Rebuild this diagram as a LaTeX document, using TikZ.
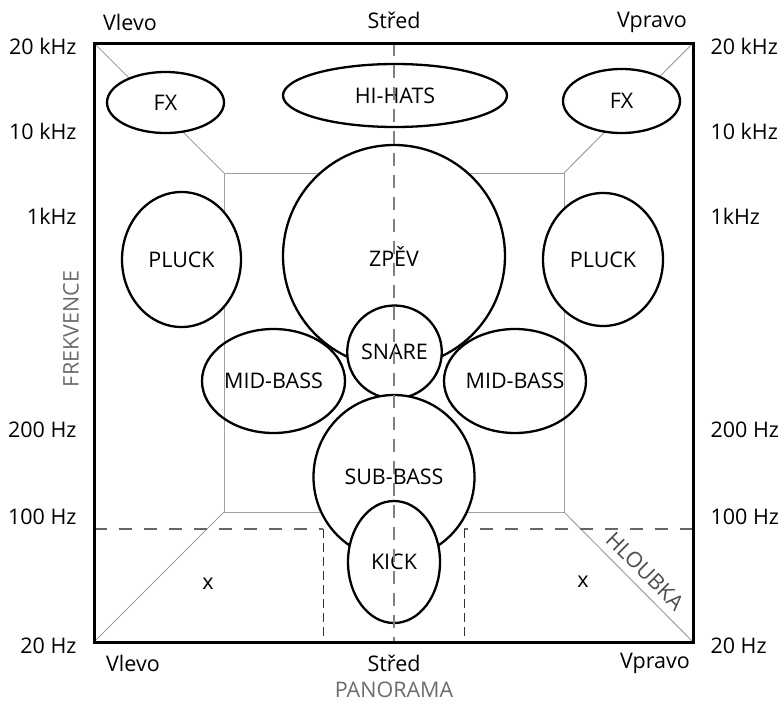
\documentclass[tikz,border=0pt]{standalone}
\usepackage{fontspec}
\setmainfont{Open Sans}
\usetikzlibrary{shapes.geometric}

\begin{document}
\begin{tikzpicture}[x=1pt, y=-1pt, font=\fontsize{21.5}{25}\selectfont,
	zone/.style={ellipse, draw, line width=2.3pt, fill=white, inner sep=0pt},
	guide/.style={color=gray!75, line width=1pt},
	axisname/.style={text=gray!85!black, inner sep=1pt}]
	\useasboundingbox (0,0) rectangle (779,702);
	% corners of the outer square and of the back wall
	\coordinate (otl) at (94,43);   \coordinate (otr) at (693,43);
	\coordinate (obl) at (94,642);  \coordinate (obr) at (693,642);
	\coordinate (itl) at (224,173); \coordinate (itr) at (564,173);
	\coordinate (ibl) at (224,512); \coordinate (ibr) at (564,512);
	\coordinate (ctop) at (394,43); \coordinate (cbot) at (394,642);
	\coordinate (lowl) at (94,529); \coordinate (lowlc) at (323,529); \coordinate (lowlb) at (323,642);
	\coordinate (lowr) at (693,529); \coordinate (lowrc) at (464,529); \coordinate (lowrb) at (464,642);
	\draw[guide] (itl) rectangle (ibr);
	\draw[guide] (otl) -- (itl) (otr) -- (itr) (obl) -- (ibl) (obr) -- (ibr);
	\draw[color=gray!80!black, line width=1.2pt, dash pattern=on 13pt off 12pt] (lowl) -- (lowlc);
	\draw[color=gray!80!black, line width=1.2pt, dash pattern=on 13pt off 12pt] (lowr) -- (lowrc);
	\draw[color=black!80, line width=1pt, dash pattern=on 9pt off 5pt] (lowlc) -- (lowlb) (lowrc) -- (lowrb);
	% instruments
	\node[zone, minimum width=117pt, minimum height=61pt] (fxl) at (165.5,102.5) {FX};
	\node[zone, minimum width=117pt, minimum height=64pt] (fxr) at (621.5,101) {FX};
	\node[zone, minimum width=224pt, minimum height=63pt] (hihats) at (395,95.5) {HI-HATS};
	\node[zone, minimum width=222pt, minimum height=222pt] (zpev) at (394,256) {ZPĚV};
	\node[zone, minimum width=119pt, minimum height=135pt] (pluckl) at (181.5,259.5) {PLUCK};
	\node[zone, minimum width=120pt, minimum height=133pt] (pluckr) at (603,259.5) {PLUCK};
	\node[zone, minimum width=93pt, minimum height=93pt] (snare) at (394.5,352) {SNARE};
	\node[zone, fill=none, minimum width=143pt, minimum height=104pt] (midl) at (273.5,381) {MID-BASS};
	\node[zone, fill=none, minimum width=142pt, minimum height=104pt] (midr) at (515,381) {MID-BASS};
	\node[zone, minimum width=161pt, minimum height=164pt] (subbass) at (394,477) {SUB-BASS};
	\node[zone, minimum width=92pt, minimum height=122pt] (kick) at (394,562) {KICK};
	\draw[color=gray, line width=1.2pt, dash pattern=on 13pt off 9pt] (ctop) -- (cbot);
	\draw[line width=3pt] (otl) rectangle (obr);
	% scales
	\foreach \f/\y in {20 kHz/46, 10 kHz/131, 1kHz/216, 200 Hz/430, 100 Hz/517, 20 Hz/646}{
		\node[anchor=east] at (80,\y) {\f};
		\node[anchor=west] at (707,\y) {\f};
	}
	\node (vlevot) at (130,22) {Vlevo};
	\node (stredt) at (394,20) {Střed};
	\node (vpravot) at (652,22) {Vpravo};
	\node (vlevob) at (133,663) {Vlevo};
	\node (stredb) at (394,663) {Střed};
	\node (vpravob) at (655,663) {Vpravo};
	\node[axisname] (panorama) at (394,690) {PANORAMA};
	\node[axisname, rotate=90] (frekvence) at (71,329) {FREKVENCE};
	\node[text=black!70, inner sep=0pt, rotate=-45] (hloubka) at (645,571) {HLOUBKA};
	\node (xl) at (208,584) {x};
	\node (xr) at (583,582) {x};
\end{tikzpicture}
\end{document}
